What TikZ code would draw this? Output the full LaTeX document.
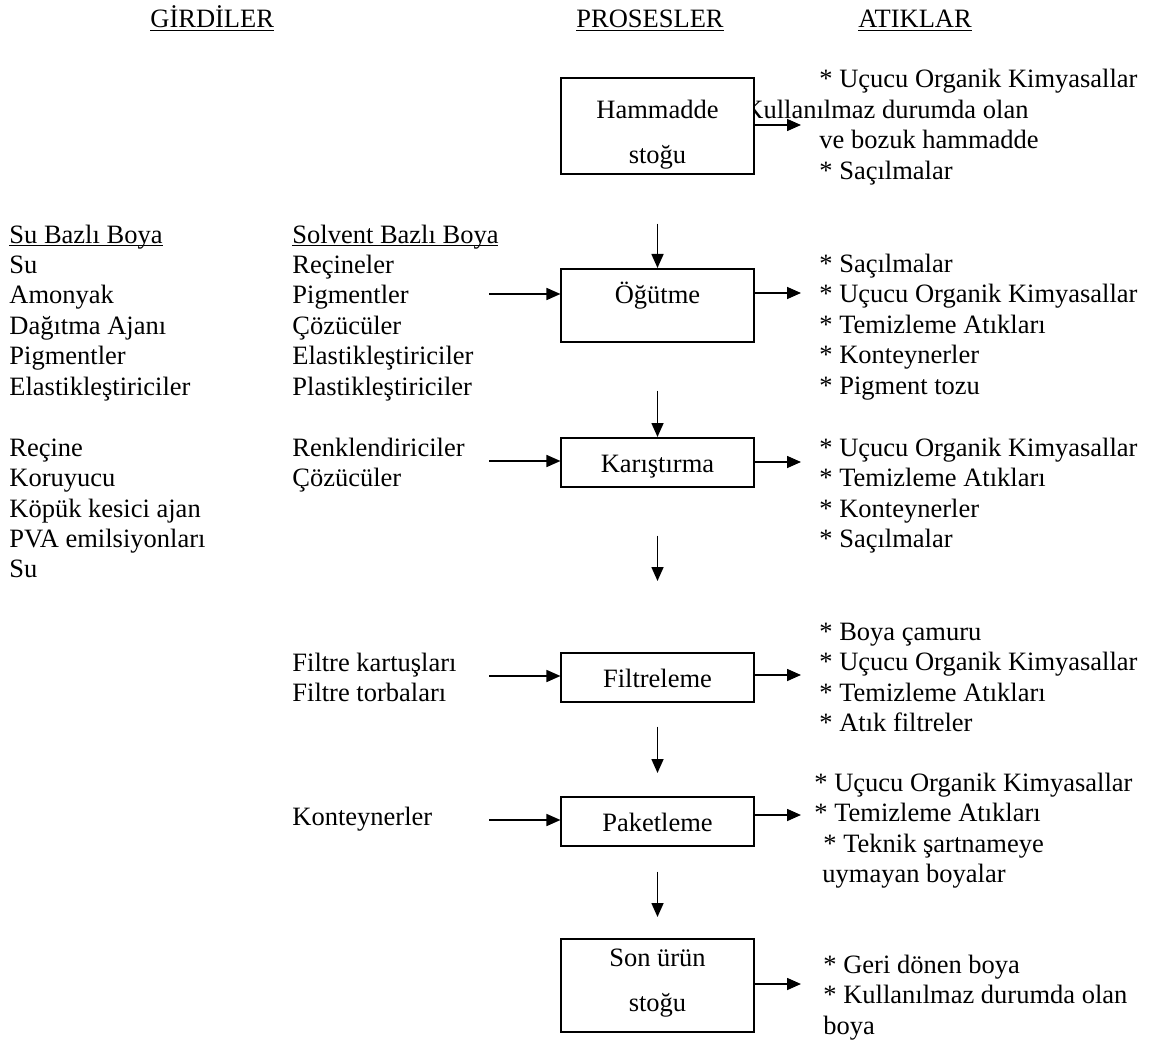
\documentclass[tikz,border=0pt]{standalone}
\usepackage{fontspec}
\setmainfont{Liberation Serif}
\usetikzlibrary{arrows.meta}
\newsavebox\cizgikutu
\newcommand\altcizgi[1]{\sbox\cizgikutu{#1}\rlap{\rule[-1.5pt]{\wd\cizgikutu}{0.6pt}}\usebox\cizgikutu}

\begin{document}
\begin{tikzpicture}[x=0.5pt,y=-0.5pt,
  yazi/.style={anchor=base west,inner sep=0pt,font=\fontsize{13.25}{15.25}\selectfont},
  kutu/.style={draw,fill=white,line width=0.8pt,anchor=north,inner sep=0pt,
    minimum width=96.25pt,align=center,font=\fontsize{13.25}{15.25}\selectfont},
  ok/.style={-{Triangle[length=7pt,width=6pt]},line width=0.8pt}]
\useasboundingbox (0,0) rectangle (1156,1048);

% basliklar
\node[yazi] (girdi) at (150,28) {\altcizgi{GİRDİLER}};
\node[yazi] (proses) at (576,28) {\altcizgi{PROSESLER}};
\node[yazi] (atik) at (858,28) {\altcizgi{ATIKLAR}};

% girdiler
\foreach \t [count=\i from 0] in {\altcizgi{Su Bazlı Boya},Su,Amonyak,Dağıtma Ajanı,Pigmentler,Elastikleştiriciler}
  \node[yazi] (su\i) at (9,243+\i*30.45) {\t};
\foreach \t [count=\i from 7] in {Reçine,Koruyucu,Köpük kesici ajan,PVA emilsiyonları,Su}
  \node[yazi] (su\i) at (9,243+\i*30.45) {\t};
\foreach \t [count=\i from 0] in {\altcizgi{Solvent Bazlı Boya},Reçineler,Pigmentler,Çözücüler,Elastikleştiriciler,Plastikleştiriciler}
  \node[yazi] (solv\i) at (292,243+\i*30.45) {\t};
\foreach \t [count=\i from 7] in {Renklendiriciler,Çözücüler}
  \node[yazi] (solv\i) at (292,243+\i*30.45) {\t};
\node[yazi] (filtre1) at (292,671) {Filtre kartuşları};
\node[yazi] (filtre2) at (292,701) {Filtre torbaları};
\node[yazi] (kont) at (292,825) {Konteynerler};

% atiklar
\foreach \x/\t [count=\i from 0] in {819/* Uçucu Organik Kimyasallar,744/Kullanılmaz durumda olan,819/ve bozuk hammadde,819/* Saçılmalar}
  \node[yazi] (aham\i) at (\x,88+\i*30.5) {\t};
\foreach \t [count=\i from 0] in {* Saçılmalar,* Uçucu Organik Kimyasallar,* Temizleme Atıkları,* Konteynerler,* Pigment tozu}
  \node[yazi] (aogut\i) at (819,272+\i*30.5) {\t};
\foreach \t [count=\i from 0] in {* Uçucu Organik Kimyasallar,* Temizleme Atıkları,* Konteynerler,* Saçılmalar}
  \node[yazi] (akar\i) at (819,456+\i*30.5) {\t};
\foreach \t [count=\i from 0] in {* Boya çamuru,* Uçucu Organik Kimyasallar,* Temizleme Atıkları,* Atık filtreler}
  \node[yazi] (afilt\i) at (819,640+\i*30.5) {\t};
\foreach \x/\t [count=\i from 0] in {814/* Uçucu Organik Kimyasallar,814/* Temizleme Atıkları,823/* Teknik şartnameye,822/uymayan boyalar}
  \node[yazi] (apaket\i) at (\x,791+\i*30.5) {\t};
\foreach \t [count=\i from 0] in {* Geri dönen boya,* Kullanılmaz durumda olan,boya}
  \node[yazi] (ason\i) at (823,973+\i*30.5) {\t};

% prosesler
\node[kutu] (ham) at (657.5,77) {\rule{0pt}{20.5pt}Hammadde\\[7.25pt]stoğu\rule[-5pt]{0pt}{0pt}};
\node[kutu] (ogut) at (657.5,268) {\rule[-19pt]{0pt}{36.5pt}Öğütme};
\node[kutu] (kar) at (657.5,437) {\rule[-7pt]{0pt}{24.5pt}Karıştırma};
\node[kutu] (filt) at (657.5,652) {\rule[-7pt]{0pt}{24.5pt}Filtreleme};
\node[kutu] (paket) at (657.5,796) {\rule[-7pt]{0pt}{24.5pt}Paketleme};
\node[kutu] (son) at (657.5,938) {\rule{0pt}{14pt}Son ürün\\[7.25pt]stoğu\rule[-10pt]{0pt}{0pt}};

\draw[ok,shorten <=24.5pt] (ham) -- (ogut);
\draw[ok,shorten <=24pt] (ogut) -- (kar);
\draw[ok,shorten <=24pt,shorten >=35.5pt] (kar) -- (filt);
\draw[ok,shorten <=12pt,shorten >=11.5pt] (filt) -- (paket);
\draw[ok,shorten <=12.5pt,shorten >=10.5pt] (paket) -- (son);

\foreach \n/\y in {ogut/294,kar/461,filt/676,paket/820} {
  \coordinate (g\n) at (489,\y);
  \draw[ok] (g\n) -- (g\n -| \n.west);
}
\foreach \n/\y in {ham/125,ogut/293,kar/462,filt/675,paket/815,son/984} {
  \coordinate (a\n) at (801,\y);
  \draw[ok] (a\n -| \n.east) -- (a\n);
}
\end{tikzpicture}
\end{document}
